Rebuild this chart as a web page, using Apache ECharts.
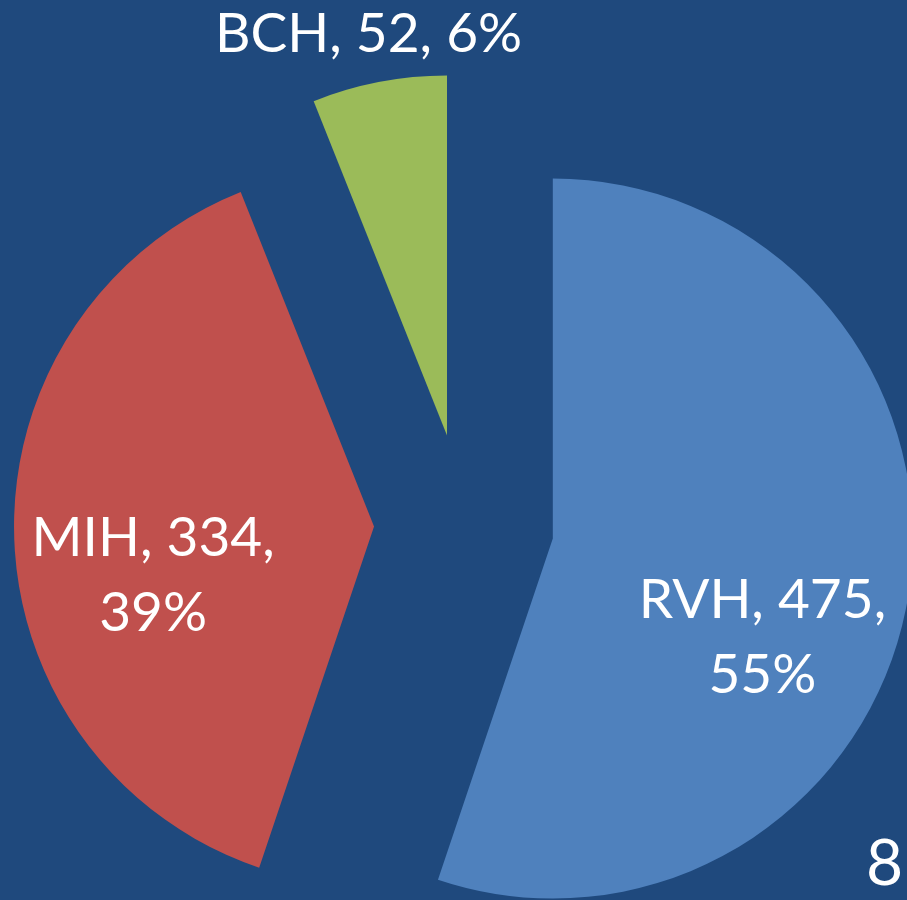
<!DOCTYPE html>
<html>
<head>
<meta charset="utf-8">
<script src="https://cdn.jsdelivr.net/npm/echarts@6/dist/echarts.min.js"></script>
<style>
html,body{margin:0;padding:0;background:#1F497D;}
#chart{width:907px;height:900px;}
</style>
</head>
<body>
<div id="chart"></div>
<script>
var categories = ['RVH', 'MIH', 'BCH'];
var values = [475, 334, 52];
var colors = ['#4F81BD', '#C0504D', '#9BBB59'];
var labelOffsets = [[29, 70], [-38, 44], [-44, -222]];
var slideNumber = '8';

var chart = echarts.init(document.getElementById('chart'), null, {renderer: 'canvas'});
var data = categories.map(function (name, i) {
  return {
    name: name,
    value: values[i],
    selected: true,
    itemStyle: {color: colors[i]}
  };
});
chart.setOption({
  backgroundColor: '#1F497D',
  animation: false,
  series: [{
    type: 'pie',
    center: [464, 524],
    radius: 360,
    startAngle: 90,
    clockwise: true,
    selectedMode: 'multiple',
    selectedOffset: 90,
    percentPrecision: 0,
    avoidLabelOverlap: false,
    emphasis: {disabled: true},
    select: {itemStyle: {borderWidth: 0}},
    itemStyle: {borderWidth: 0},
    labelLine: {show: false},
    label: {
      show: true,
      position: 'inside',
      color: '#FFFFFF',
      fontFamily: 'Lato',
      fontSize: 55,
      lineHeight: 75,
      align: 'center',
      formatter: function (p) {
        var sep = p.dataIndex === 2 ? ' ' : '\n';
        return p.name + ', ' + p.value + ',' + sep + p.percent + '%';
      }
    },
    labelLayout: function (p) {
      var o = labelOffsets[p.dataIndex];
      return {dx: o[0], dy: o[1]};
    },
    data: data
  }],
  graphic: [{
    type: 'text',
    right: 4,
    bottom: 4,
    style: {text: slideNumber, fill: '#FFFFFF', font: '64px Lato'}
  }]
});
</script>
</body>
</html>
